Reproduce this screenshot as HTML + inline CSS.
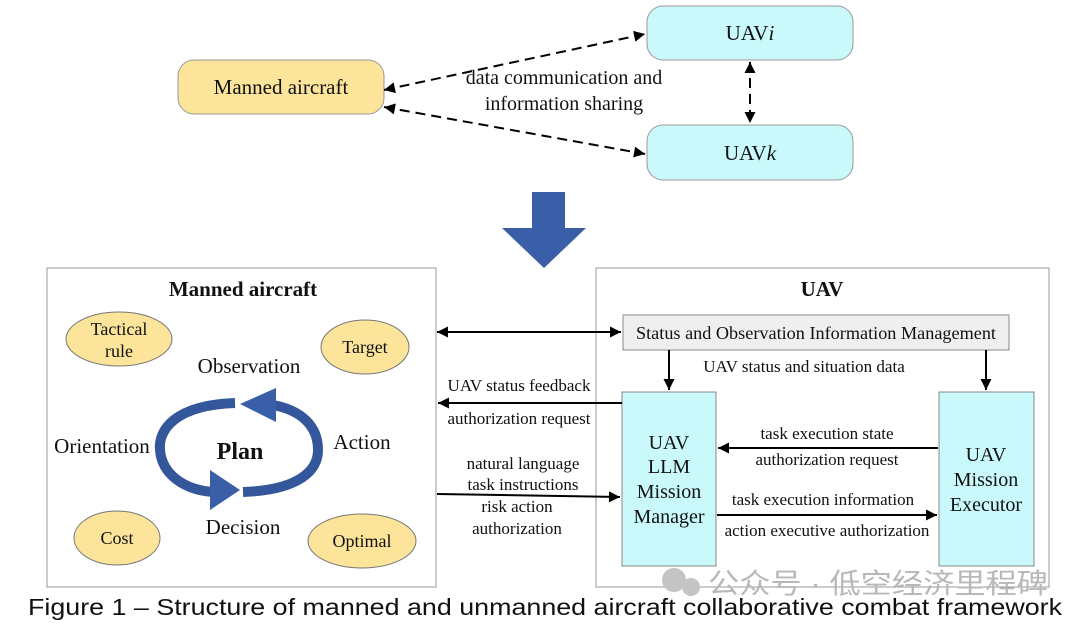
<!DOCTYPE html>
<html><head><meta charset="utf-8"><style>
html,body{margin:0;padding:0;background:#fff;}
svg text{font-family:"Liberation Serif",serif;fill:#111;}
</style></head><body>
<svg width="1080" height="628" viewBox="0 0 1080 628" xmlns="http://www.w3.org/2000/svg">
<defs>
<marker id="a" viewBox="0 0 10 10" refX="10" refY="5" markerWidth="10" markerHeight="10" orient="auto-start-reverse" markerUnits="userSpaceOnUse"><path d="M0,0L10,5L0,10z" fill="#000"/></marker>
<marker id="b" viewBox="0 0 10 10" refX="10" refY="5" markerWidth="18" markerHeight="11" orient="auto-start-reverse" markerUnits="userSpaceOnUse"><path d="M0,0L10,5L0,10z" fill="#000"/></marker>
</defs>
<!-- top -->
<rect x="178" y="60" width="206" height="54" rx="16" fill="#fce49a" stroke="#999"/>
<text x="281" y="94" font-size="21" text-anchor="middle">Manned aircraft</text>
<rect x="647" y="6" width="206" height="54" rx="16" fill="#c9f9fb" stroke="#999"/>
<text x="750" y="40" font-size="21" text-anchor="middle">UAV<tspan font-style="italic">i</tspan></text>
<rect x="647" y="125" width="206" height="55" rx="16" fill="#c9f9fb" stroke="#999"/>
<text x="750" y="160" font-size="21" text-anchor="middle">UAV<tspan font-style="italic">k</tspan></text>
<line x1="384" y1="90" x2="645" y2="34" stroke="#000" stroke-width="2" stroke-dasharray="10,6" marker-start="url(#b)" marker-end="url(#b)"/>
<line x1="384" y1="107" x2="645" y2="154" stroke="#000" stroke-width="2" stroke-dasharray="10,6" marker-start="url(#b)" marker-end="url(#b)"/>
<line x1="750" y1="62" x2="750" y2="123" stroke="#000" stroke-width="2" stroke-dasharray="10,6" marker-start="url(#b)" marker-end="url(#b)"/>
<text x="564" y="84" font-size="20" text-anchor="middle">data communication and</text>
<text x="564" y="110" font-size="20" text-anchor="middle">information sharing</text>
<polygon points="532,192 565,192 565,228 586,228 544,268 502,228 532,228" fill="#3a5fa8"/>
<!-- left box -->
<rect x="47" y="268" width="389" height="319" fill="#fff" stroke="#999"/>
<text x="243" y="296" font-size="21" font-weight="bold" text-anchor="middle">Manned aircraft</text>
<ellipse cx="119" cy="339" rx="53" ry="27" fill="#fce49a" stroke="#777"/>
<text x="119" y="335" font-size="18" text-anchor="middle">Tactical</text>
<text x="119" y="357" font-size="18" text-anchor="middle">rule</text>
<ellipse cx="365" cy="347" rx="44" ry="27" fill="#fce49a" stroke="#777"/>
<text x="365" y="353" font-size="18" text-anchor="middle">Target</text>
<ellipse cx="117" cy="538" rx="43" ry="27" fill="#fce49a" stroke="#777"/>
<text x="117" y="544" font-size="18" text-anchor="middle">Cost</text>
<ellipse cx="362" cy="541" rx="54" ry="27" fill="#fce49a" stroke="#777"/>
<text x="362" y="547" font-size="18" text-anchor="middle">Optimal</text>
<text x="249" y="373" font-size="21" text-anchor="middle">Observation</text>
<text x="102" y="453" font-size="21" text-anchor="middle">Orientation</text>
<text x="362" y="449" font-size="21" text-anchor="middle">Action</text>
<text x="243" y="534" font-size="21" text-anchor="middle">Decision</text>
<text x="240" y="459" font-size="24" font-weight="bold" text-anchor="middle">Plan</text>
<!-- cycle -->
<path d="M235,403 C175,405 158,430 160,450 C162,475 185,490 213,492" fill="none" stroke="#34569a" stroke-width="10"/>
<polygon points="210,470 240,490 210,510" fill="#3a5fa8"/>
<path d="M243,492 C300,490 318,470 318,450 C318,425 300,410 273,405" fill="none" stroke="#34569a" stroke-width="10"/>
<polygon points="276,388 240,404 276,422" fill="#3a5fa8"/>
<!-- right box -->
<rect x="596" y="268" width="453" height="319" fill="#fff" stroke="#999"/>
<text x="822" y="296" font-size="21" font-weight="bold" text-anchor="middle">UAV</text>
<rect x="623" y="315" width="386" height="35" fill="#efefef" stroke="#888"/>
<text x="816" y="339" font-size="18" text-anchor="middle" textLength="360" lengthAdjust="spacingAndGlyphs">Status and Observation Information Management</text>
<rect x="622" y="392" width="94" height="174" fill="#c9f9fb" stroke="#888"/>
<text x="669" y="449" font-size="20" text-anchor="middle">UAV</text>
<text x="669" y="473" font-size="20" text-anchor="middle">LLM</text>
<text x="669" y="498" font-size="20" text-anchor="middle">Mission</text>
<text x="669" y="523" font-size="20" text-anchor="middle">Manager</text>
<rect x="939" y="392" width="95" height="174" fill="#c9f9fb" stroke="#888"/>
<text x="986" y="461" font-size="20" text-anchor="middle">UAV</text>
<text x="986" y="486" font-size="20" text-anchor="middle">Mission</text>
<text x="986" y="511" font-size="20" text-anchor="middle">Executor</text>
<line x1="669" y1="350" x2="669" y2="390" stroke="#000" stroke-width="2" marker-end="url(#b)"/>
<line x1="986" y1="350" x2="986" y2="390" stroke="#000" stroke-width="2" marker-end="url(#b)"/>
<text x="804" y="372" font-size="17" text-anchor="middle">UAV status and situation data</text>
<line x1="938" y1="448" x2="718" y2="448" stroke="#000" stroke-width="2" marker-end="url(#b)"/>
<text x="827" y="439" font-size="17" text-anchor="middle">task execution state</text>
<text x="827" y="465" font-size="17" text-anchor="middle">authorization request</text>
<line x1="717" y1="515" x2="937" y2="515" stroke="#000" stroke-width="2" marker-end="url(#b)"/>
<text x="823" y="505" font-size="17" text-anchor="middle">task execution information</text>
<text x="827" y="536" font-size="17" text-anchor="middle">action executive authorization</text>
<!-- between -->
<line x1="437" y1="332" x2="621" y2="332" stroke="#000" stroke-width="2" marker-start="url(#b)" marker-end="url(#b)"/>
<line x1="622" y1="403" x2="438" y2="403" stroke="#000" stroke-width="2" marker-end="url(#b)"/>
<text x="519" y="391" font-size="17" text-anchor="middle">UAV status feedback</text>
<text x="519" y="424" font-size="17" text-anchor="middle">authorization request</text>
<line x1="437" y1="494" x2="620" y2="497" stroke="#000" stroke-width="2" marker-end="url(#b)"/>
<text x="523" y="469" font-size="17" text-anchor="middle">natural language</text>
<text x="523" y="490" font-size="17" text-anchor="middle">task instructions</text>
<text x="517" y="512" font-size="17" text-anchor="middle">risk action</text>
<text x="517" y="534" font-size="17" text-anchor="middle">authorization</text>
<!-- watermark -->
<circle cx="674" cy="580" r="12" fill="#c4c4c4"/><circle cx="691" cy="587" r="9" fill="#c4c4c4"/>
<text x="708" y="593" font-size="28" style="fill:#b8b8b8;font-family:'Liberation Sans','Noto Sans CJK SC',sans-serif" textLength="340" lengthAdjust="spacingAndGlyphs">公众号 · 低空经济里程碑</text>
<text x="545" y="615" font-size="23" text-anchor="middle" style="font-family:'Liberation Sans',sans-serif" textLength="1034" lengthAdjust="spacingAndGlyphs">Figure 1 – Structure of manned and unmanned aircraft collaborative combat framework</text>
</svg>
</body></html>
